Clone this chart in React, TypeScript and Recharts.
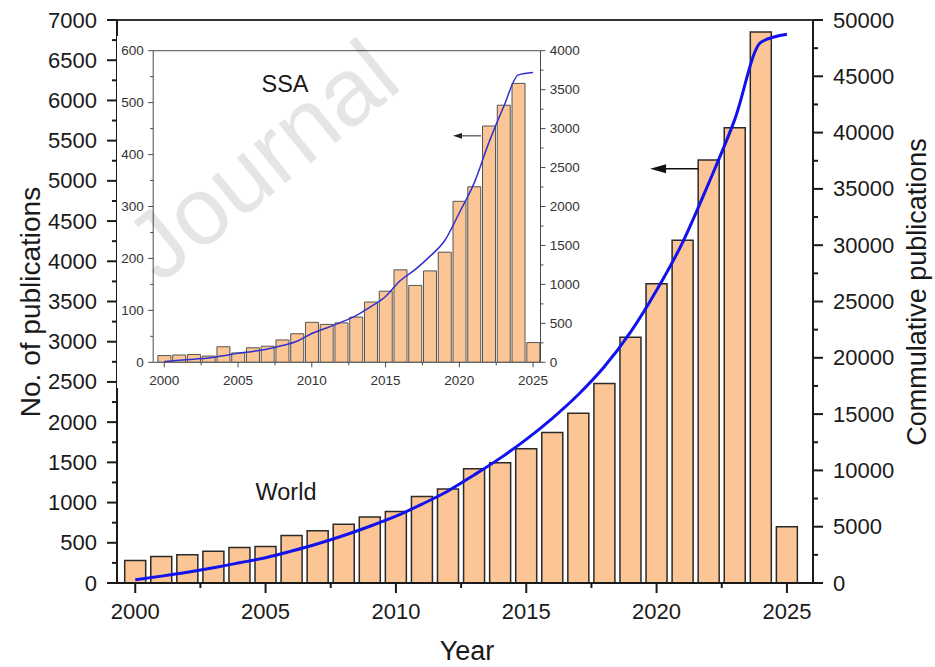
import { ComposedChart, Bar, Line, XAxis, YAxis, ReferenceLine, ReferenceDot } from 'recharts';

const FONT = '"Liberation Sans", Arial, sans-serif';

// World publications per year (left axis) and cumulative (right axis)
const years = [2000, 2001, 2002, 2003, 2004, 2005, 2006, 2007, 2008, 2009, 2010, 2011, 2012,
  2013, 2014, 2015, 2016, 2017, 2018, 2019, 2020, 2021, 2022, 2023, 2024, 2025];
const worldPubs = [280, 330, 350, 395, 440, 455, 590, 650, 730, 820, 890, 1075, 1170,
  1420, 1495, 1670, 1870, 2110, 2480, 3055, 3720, 4260, 5260, 5660, 6850, 700];
const worldCumulative = [280, 610, 960, 1355, 1795, 2250, 2840, 3490, 4220, 5040, 5930, 7005, 8175,
  9595, 11090, 12760, 14630, 16740, 19220, 22275, 25995, 30255, 35515, 41175, 48025, 48725];

// Sub-Saharan Africa (inset)
const ssaPubs = [13, 14, 15, 12, 30, 18, 28, 31, 43, 55, 77, 73, 76,
  87, 116, 137, 178, 148, 176, 212, 310, 338, 455, 495, 537, 38];
const ssaCumulative = [10, 25, 40, 55, 85, 115, 140, 170, 215, 270, 370, 440, 515,
  600, 715, 845, 1050, 1190, 1360, 1560, 1920, 2300, 2820, 3280, 3690, 3720];

// Tick values
const yearMajors = [2000, 2005, 2010, 2015, 2020, 2025];
const yearTicks = [2000, 2002.5, 2005, 2007.5, 2010, 2012.5, 2015, 2017.5, 2020, 2022.5, 2025];
const leftMajors = [0, 500, 1000, 1500, 2000, 2500, 3000, 3500, 4000, 4500, 5000, 5500, 6000, 6500, 7000];
const leftTicks = [0, 250, 500, 750, 1000, 1250, 1500, 1750, 2000, 2250, 2500, 2750, 3000, 3250, 3500,
  3750, 4000, 4250, 4500, 4750, 5000, 5250, 5500, 5750, 6000, 6250, 6500, 6750, 7000];
const rightMajors = [0, 5000, 10000, 15000, 20000, 25000, 30000, 35000, 40000, 45000, 50000];
const rightTicks = [0, 2500, 5000, 7500, 10000, 12500, 15000, 17500, 20000, 22500, 25000, 27500,
  30000, 32500, 35000, 37500, 40000, 42500, 45000, 47500, 50000];
const insetLeftMajors = [0, 100, 200, 300, 400, 500, 600];
const insetLeftTicks = [0, 50, 100, 150, 200, 250, 300, 350, 400, 450, 500, 550, 600];
const insetRightMajors = [0, 500, 1000, 1500, 2000, 2500, 3000, 3500, 4000];
const insetRightTicks = [0, 250, 500, 750, 1000, 1250, 1500, 1750, 2000, 2250, 2500, 2750,
  3000, 3250, 3500, 3750, 4000];

const worldData = years.map((year, i) => ({ year, pubs: worldPubs[i], cum: worldCumulative[i] }));
const ssaData = years.map((year, i) => ({ year, pubs: ssaPubs[i], cum: ssaCumulative[i] }));

type Side = 'left' | 'right' | 'bottom';
interface TickStyle {
  side: Side;
  majors: number[];
  size: number;
  minorSize: number;
  margin: number;
  fontSize: number;
  color: string;
  stroke: string;
  strokeWidth: number;
}

// draws major/minor tick marks plus labels for the majors
function makeTick(s: TickStyle) {
  return (props: any) => {
    const { x, y, payload } = props;
    const v = payload.value as number;
    const major = s.majors.indexOf(v) >= 0;
    const len = major ? s.size : s.minorSize;
    const txt = { fontSize: s.fontSize, fill: s.color, fontFamily: FONT };
    const ln = { stroke: s.stroke, strokeWidth: s.strokeWidth };
    if (s.side === 'left') {
      const ax = x + s.size + s.margin;
      return (
        <g>
          <line x1={ax} y1={y} x2={ax - len} y2={y} {...ln} />
          {major && <text x={x} y={y} textAnchor="end" dominantBaseline="central" {...txt}>{v}</text>}
        </g>
      );
    }
    if (s.side === 'right') {
      const ax = x - s.size - s.margin;
      return (
        <g>
          <line x1={ax} y1={y} x2={ax + len} y2={y} {...ln} />
          {major && <text x={x} y={y} textAnchor="start" dominantBaseline="central" {...txt}>{v}</text>}
        </g>
      );
    }
    const ay = y - s.size - s.margin;
    return (
      <g>
        <line x1={x} y1={ay} x2={x} y2={ay + len} {...ln} />
        {major && <text x={x} y={y} dy="0.72em" textAnchor="middle" {...txt}>{v}</text>}
      </g>
    );
  };
}

const arrowHead = (len: number, half: number, fill: string) => (props: any) => {
  const { cx, cy } = props;
  return <polygon points={`${cx},${cy} ${cx + len},${cy - half} ${cx + len},${cy + half}`} fill={fill} />;
};

const MAIN_INK = '#1a1a1a';
const INSET_INK = '#4a4a4a';
const BAR_FILL = '#FBC595';

export default function App() {
  return (
    <div style={{ position: 'absolute', left: 0, top: 0, width: 935, height: 667, background: '#fff', fontFamily: FONT }}>
      <ComposedChart width={935} height={667} data={worldData} barCategoryGap="9.5%"
        margin={{ top: 20, right: 0, bottom: 0, left: 0 }}>
        <XAxis dataKey="year" type="number" domain={[1999.3, 2026]} allowDataOverflow ticks={yearTicks} interval={0}
          height={84} tickSize={10} tickMargin={10} tickLine={false}
          axisLine={{ stroke: MAIN_INK, strokeWidth: 2 }}
          tick={makeTick({ side: 'bottom', majors: yearMajors, size: 10, minorSize: 5, margin: 10, fontSize: 22, color: MAIN_INK, stroke: MAIN_INK, strokeWidth: 2 })} />
        <YAxis yAxisId="left" domain={[0, 7000]} allowDataOverflow ticks={leftTicks} interval={0}
          width={117} tickSize={10} tickMargin={10} tickLine={false}
          axisLine={{ stroke: MAIN_INK, strokeWidth: 2 }}
          tick={makeTick({ side: 'left', majors: leftMajors, size: 10, minorSize: 5, margin: 10, fontSize: 22, color: MAIN_INK, stroke: MAIN_INK, strokeWidth: 2 })} />
        <YAxis yAxisId="right" orientation="right" domain={[0, 50000]} allowDataOverflow ticks={rightTicks} interval={0}
          width={122} tickSize={10} tickMargin={10} tickLine={false}
          axisLine={{ stroke: MAIN_INK, strokeWidth: 2 }}
          tick={makeTick({ side: 'right', majors: rightMajors, size: 10, minorSize: 5, margin: 10, fontSize: 22, color: MAIN_INK, stroke: MAIN_INK, strokeWidth: 2 })} />
        <ReferenceLine yAxisId="left" y={7000} stroke="#333" strokeWidth={2} />
        <Bar yAxisId="left" dataKey="pubs" fill={BAR_FILL} stroke="#2b2b2b" strokeWidth={1.5} isAnimationActive={false} />
        <Line yAxisId="right" dataKey="cum" type="monotone" stroke="#1212ee" strokeWidth={3} dot={false} isAnimationActive={false} />
        <ReferenceLine yAxisId="left" segment={[{ x: 2021.6, y: 5150 }, { x: 2020.2, y: 5150 }]} stroke="#111" strokeWidth={1.5} />
        <ReferenceDot yAxisId="left" x={2019.75} y={5150} shape={arrowHead(16, 4.5, '#111')} />
      </ComposedChart>

      {/* inset: SSA */}
      <div style={{ position: 'absolute', left: 116.5, top: 36, width: 464, height: 352, background: '#fff' }}>
        <ComposedChart width={464} height={352} data={ssaData} barCategoryGap="7%"
          margin={{ top: 14.7, right: 0, bottom: 0, left: 0 }}>
          <XAxis dataKey="year" type="number" domain={[1999.25, 2025.5]} allowDataOverflow ticks={yearTicks} interval={0}
            height={25.7} tickSize={5} tickMargin={7.5} tickLine={false}
            axisLine={{ stroke: INSET_INK, strokeWidth: 1 }}
            tick={makeTick({ side: 'bottom', majors: yearMajors, size: 5, minorSize: 3, margin: 7.5, fontSize: 13.5, color: '#333', stroke: INSET_INK, strokeWidth: 1 })} />
          <YAxis yAxisId="left" domain={[0, 600]} allowDataOverflow ticks={insetLeftTicks} interval={0}
            width={36.2} tickSize={5} tickMargin={4.4} tickLine={false}
            axisLine={{ stroke: INSET_INK, strokeWidth: 1 }}
            tick={makeTick({ side: 'left', majors: insetLeftMajors, size: 5, minorSize: 3, margin: 4.4, fontSize: 13.5, color: '#333', stroke: INSET_INK, strokeWidth: 1 })} />
          <YAxis yAxisId="right" orientation="right" domain={[0, 4000]} allowDataOverflow ticks={insetRightTicks} interval={0}
            width={40.5} tickSize={5} tickMargin={4.3} tickLine={false}
            axisLine={{ stroke: INSET_INK, strokeWidth: 1 }}
            tick={makeTick({ side: 'right', majors: insetRightMajors, size: 5, minorSize: 3, margin: 4.3, fontSize: 13.5, color: '#333', stroke: INSET_INK, strokeWidth: 1 })} />
          <ReferenceLine yAxisId="left" y={600} stroke={INSET_INK} strokeWidth={1} />
          <Bar yAxisId="left" dataKey="pubs" fill={BAR_FILL} stroke="#555" strokeWidth={1} isAnimationActive={false} />
          <Line yAxisId="right" dataKey="cum" type="monotone" stroke="#3030d0" strokeWidth={1.5} dot={false} isAnimationActive={false} />
          <ReferenceLine yAxisId="left" segment={[{ x: 2021.47, y: 436 }, { x: 2020.1, y: 436 }]} stroke="#222" strokeWidth={1} />
          <ReferenceDot yAxisId="left" x={2019.57} y={436} shape={arrowHead(9, 2.8, '#222')} />
        </ComposedChart>
      </div>

      {/* titles, labels and watermark */}
      <svg width={935} height={667} style={{ position: 'absolute', left: 0, top: 0, pointerEvents: 'none' }}>
        <text x={30} y={302} transform="rotate(-90 30 302)" textAnchor="middle" dominantBaseline="central"
          fontSize={28} fill={MAIN_INK} fontFamily={FONT}>No. of publications</text>
        <text x={917} y={292} transform="rotate(-90 917 292)" textAnchor="middle" dominantBaseline="central"
          fontSize={27} fill={MAIN_INK} fontFamily={FONT}>Commulative publications</text>
        <text x={467} y={651} textAnchor="middle" dominantBaseline="central" fontSize={27} fill={MAIN_INK} fontFamily={FONT}>Year</text>
        <text x={285} y={84} textAnchor="middle" dominantBaseline="central" fontSize={23.5} fill={MAIN_INK} fontFamily={FONT}>SSA</text>
        <text x={286} y={492} textAnchor="middle" dominantBaseline="central" fontSize={23.5} fill={MAIN_INK} fontFamily={FONT}>World</text>
        <text x={160} y={285} transform="rotate(-39 160 285)" fontSize={96} fill="#000" fillOpacity={0.1} fontFamily={FONT}>Journal</text>
      </svg>
    </div>
  );
}
